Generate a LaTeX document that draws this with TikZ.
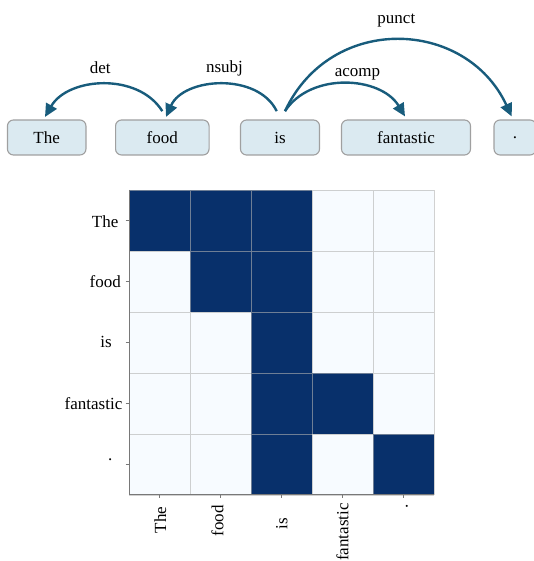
\documentclass[tikz,border=0pt]{standalone}
\usepackage{fontspec}
\setmainfont{Liberation Serif}
\usetikzlibrary{arrows.meta}

\definecolor{arcblue}{RGB}{24,92,124}
\definecolor{wordfill}{RGB}{219,234,241}
\definecolor{wordline}{RGB}{160,160,160}
\definecolor{cellon}{RGB}{8,48,107}
\definecolor{celloff}{RGB}{247,251,255}
\definecolor{axisgray}{RGB}{120,120,120}

\tikzset{
  word/.style={draw=wordline, fill=wordfill, line width=1.1pt, rounded corners=6pt,
    minimum height=35pt, inner sep=0pt},
  deparc/.style={draw=arcblue, line width=2.4pt, -{Triangle[length=13pt,width=12pt]}},
  deplabel/.style={anchor=base, inner sep=0pt},
  ylab/.style={anchor=base east, inner sep=0pt},
  xlab/.style={anchor=base east, rotate=90, inner sep=0pt},
}

\begin{document}
\begin{tikzpicture}[x=1pt, y=1pt, font=\fontsize{17}{20}\selectfont]
\useasboundingbox (0,0) rectangle (533,561);

% sentence
\node[word, minimum width=78.5pt] (the) at (46.7,423.5) {The};
\node[word, minimum width=93.5pt] (food) at (162.3,423.5) {food};
\node[word, minimum width=79pt] (is) at (280,423.5) {is};
\node[word, minimum width=129pt] (fant) at (406,423.5) {fantastic};
\node[word, minimum width=42pt] (dot) at (515,423.5) {.};

% dependency arcs
\draw[deparc] ([yshift=8.3pt]food.north) to[out=122, in=60]
  node[deplabel, midway, xshift=-3pt, yshift=11pt] {det} ([xshift=-1.7pt, yshift=2.5pt]the.north);
\draw[deparc] ([xshift=-3.3pt, yshift=8.3pt]is.north) to[out=116, in=66]
  node[deplabel, midway, xshift=3.6pt, yshift=12pt] {nsubj} ([xshift=3.7pt, yshift=2.5pt]food.north);
\draw[deparc] ([xshift=5pt, yshift=8.3pt]is.north) to[out=57, in=121]
  node[deplabel, midway, xshift=12pt, yshift=7pt] {acomp} ([xshift=-1pt, yshift=3pt]fant.north);
\draw[deparc] ([xshift=5pt, yshift=8.3pt]is.north) to[out=65, in=115, looseness=1.22]
  node[deplabel, midway, xshift=-2pt, yshift=17pt] {punct} ([xshift=-3.3pt, yshift=3pt]dot.north);

% heat map
\fill[celloff] (129,66) rectangle (434,371);
\fill[cellon] (129,310) rectangle (251,371);
\fill[cellon] (190,249) rectangle (251,310);
\fill[cellon] (251,66) rectangle (312,371);
\fill[cellon] (312,127) rectangle (373,188);
\fill[cellon] (373,66) rectangle (434,127);
\draw[gray!60, opacity=.6, line width=.8pt, shift={(129,66)}, step=61pt] (0,0) grid (305,305);
\draw[axisgray, line width=1pt] (129,371) -- (129,66) -- (434,66);
\draw[axisgray, line width=1pt]
  (125.5,340.5) -- (129,340.5) (125.5,279.5) -- (129,279.5) (125.5,218.5) -- (129,218.5)
  (125.5,157.5) -- (129,157.5) (125.5,96.5) -- (129,96.5)
  (159.5,66) -- (159.5,62.5) (220.5,66) -- (220.5,62.5) (281.5,66) -- (281.5,62.5)
  (342.5,66) -- (342.5,62.5) (403.5,66) -- (403.5,62.5);

% axis labels
\node[ylab] (lthe) at (118.5,333.3) {The};
\node[ylab] (lfood) at (121,273.3) {food};
\node[ylab] (lis) at (112,213) {is};
\node[ylab] (lfant) at (122.5,151.7) {fantastic};
\node[ylab] (ldot) at (112.5,100) {.};

\node[xlab] (bthe) at (166,54.3) {The};
\node[xlab] (bfood) at (223.3,56) {food};
\node[xlab] (bis) at (287.3,43) {is};
\node[xlab] (bfant) at (348.3,58) {fantastic};
\node[xlab] (bdot) at (407.5,57) {.};
\end{tikzpicture}
\end{document}
